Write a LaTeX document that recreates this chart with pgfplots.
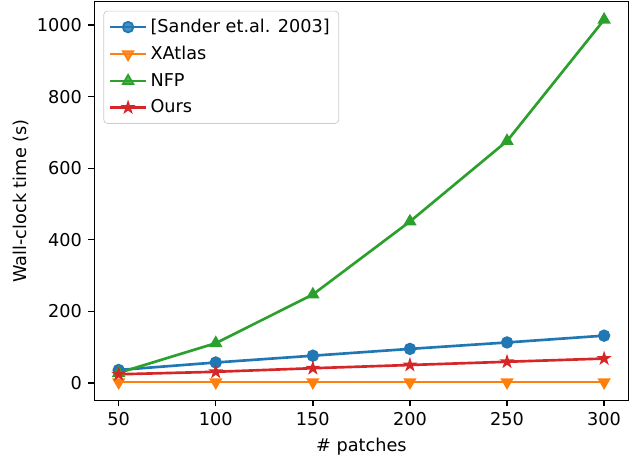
\documentclass[border=0pt]{standalone}
\usepackage{fontspec}
\setmainfont{DejaVu Sans}
\usepackage{pgfplots}
\pgfplotsset{compat=1.18}
\definecolor{tabblue}{HTML}{1F77B4}
\definecolor{taborange}{HTML}{FF7F0E}
\definecolor{tabgreen}{HTML}{2CA02C}
\definecolor{tabred}{HTML}{D62728}
\pgfdeclareplotmark{fstar}{%
  \pgfpathmoveto{\pgfpointpolar{90}{\pgfplotmarksize}}%
  \pgfpathlineto{\pgfpointpolar{126}{0.382\pgfplotmarksize}}%
  \pgfpathlineto{\pgfpointpolar{162}{\pgfplotmarksize}}%
  \pgfpathlineto{\pgfpointpolar{198}{0.382\pgfplotmarksize}}%
  \pgfpathlineto{\pgfpointpolar{234}{\pgfplotmarksize}}%
  \pgfpathlineto{\pgfpointpolar{270}{0.382\pgfplotmarksize}}%
  \pgfpathlineto{\pgfpointpolar{306}{\pgfplotmarksize}}%
  \pgfpathlineto{\pgfpointpolar{342}{0.382\pgfplotmarksize}}%
  \pgfpathlineto{\pgfpointpolar{18}{\pgfplotmarksize}}%
  \pgfpathlineto{\pgfpointpolar{54}{0.382\pgfplotmarksize}}%
  \pgfpathclose
  \pgfusepathqfillstroke
}
\begin{document}
\begin{tikzpicture}
\begin{axis}[
  scale only axis,
  width=302pt, height=225.5pt,
  xmin=37.5, xmax=312.5, ymin=-48.7, ymax=1065.7,
  xtick={50,100,150,200,250,300},
  ytick={0,200,400,600,800,1000},
  xtick pos=lower, ytick pos=left,
  tick align=outside,
  major tick length=3.5pt,
  tick style={black, line width=0.8pt},
  axis line style={line width=0.8pt},
  /pgf/number format/assume math mode=true,
  /pgf/number format/1000 sep={},
  tick label style={font=\fontsize{10}{12}\selectfont},
  label style={font=\fontsize{10}{12}\selectfont},
  xlabel={\# patches},
  ylabel={Wall-clock time (s)},
  ylabel style={yshift=-2.2pt},
  legend style={at={(0.017,0.977)}, anchor=north west, draw=black!20,
    rounded corners=2pt, fill=white, fill opacity=0.8, text opacity=1,
    font=\fontsize{10}{12}\selectfont, inner xsep=3pt, inner ysep=2.5pt,
    row sep=2.2pt},
  legend cell align=left,
  legend image code/.code={%
    \draw[mark repeat=2,mark phase=2] plot coordinates {(0cm,0cm) (0.35cm,0cm) (0.7cm,0cm)};},
  every axis plot/.append style={line width=1.5pt},
]
\addplot[color=tabblue, mark=*, mark size=3pt, mark options={solid, line width=1pt}]
  coordinates {(50,36) (100,57) (150,76) (200,95) (250,113) (300,132)};
\addlegendentry{[Sander et.al. 2003]}
\addplot[color=taborange, mark=triangle*, mark size=3.4pt, mark options={solid, rotate=180, line width=1pt}]
  coordinates {(50,2) (100,2) (150,2) (200,2) (250,2) (300,2)};
\addlegendentry{XAtlas}
\addplot[color=tabgreen, mark=triangle*, mark size=3.4pt, mark options={solid, line width=1pt}]
  coordinates {(50,28) (100,111) (150,247) (200,451) (250,676) (300,1015)};
\addlegendentry{NFP}
\addplot[color=tabred, mark=fstar, mark size=3.2pt, mark options={solid, line width=0.8pt}]
  coordinates {(50,24) (100,31) (150,41) (200,50) (250,59) (300,68)};
\addlegendentry{Ours}
\end{axis}
\path ([xshift=-4pt,yshift=-5.6pt]current axis.outer south west) rectangle ([xshift=5.6pt,yshift=0.5pt]current axis.outer north east);
\end{tikzpicture}
\end{document}
